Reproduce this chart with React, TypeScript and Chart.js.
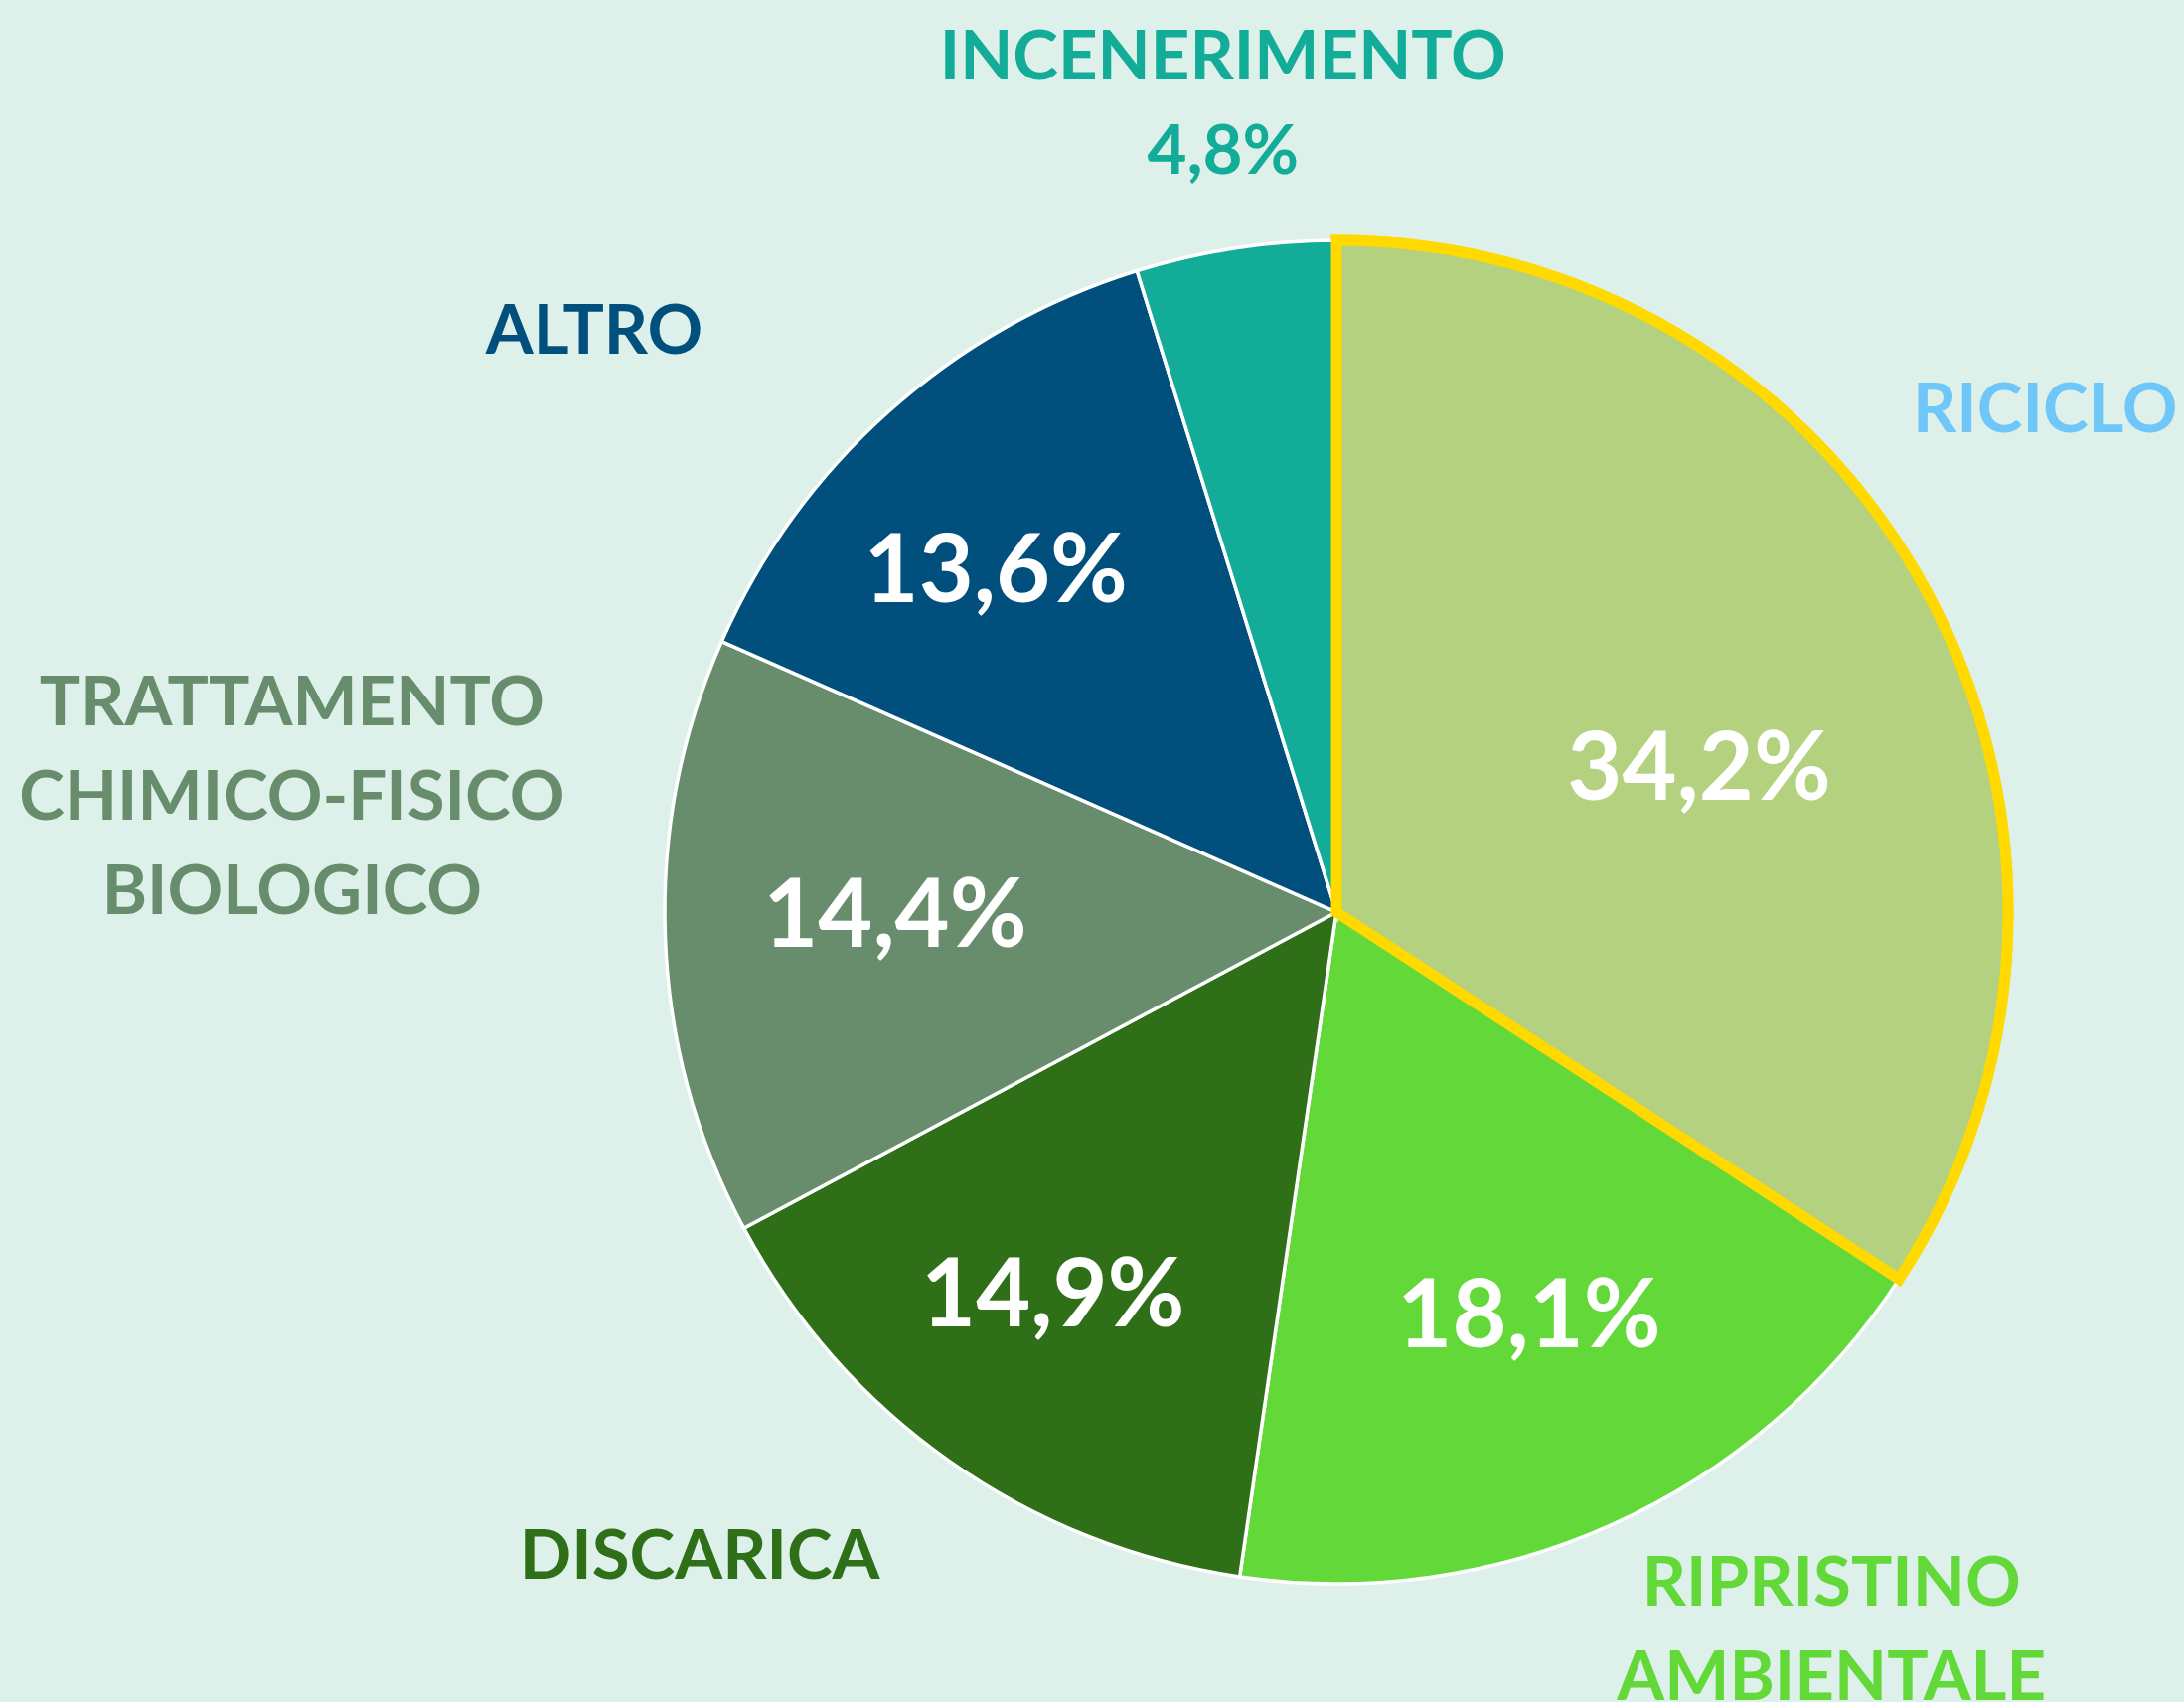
import React, { useEffect, useRef } from "react";
import { Chart, registerables } from "chart.js";

Chart.register(...registerables);

const categories = ["RICICLO", "RIPRISTINO AMBIENTALE", "DISCARICA", "TRATTAMENTO CHIMICO-FISICO BIOLOGICO", "ALTRO", "INCENERIMENTO"];
const values = [34.2, 18.1, 14.9, 14.4, 13.6, 4.8];
const sliceColors = ["#b3d17f", "#63d839", "#2f6f18", "#688d6d", "#004f7c", "#12ac98"];
const labelColors = ["#6ec6f9", "#63d839", "#2f6f18", "#688d6d", "#004f7c", "#12ac98"];
const nameLines = [["RICICLO"], ["RIPRISTINO", "AMBIENTALE"], ["DISCARICA"], ["TRATTAMENTO", "CHIMICO-FISICO", "BIOLOGICO"], ["ALTRO"], ["INCENERIMENTO", "4,8%"]];
const showInside = [true, true, true, true, true, false];
// label placement relative to pie centre, in units of radius
const insidePos = [[0.54, -0.213], [0.287, 0.602], [-0.422, 0.571], [-0.657, 0.006], [-0.507, -0.507], [0, 0]];
const outsidePos = [[1.055, -0.748], [0.737, 1.0], [-0.948, 0.960], [-1.555, -0.311], [-1.105, -0.864], [-0.169, -1.272]];

const FONT = "Lato, 'Open Sans', sans-serif";

const labelPlugin = {
  id: "labels",
  afterDatasetsDraw(chart: any) {
    const meta = chart.getDatasetMeta(0);
    const ctx = chart.ctx;
    // redraw highlighted slice on top
    meta.data[0].draw(ctx);
    const arc = meta.data[0];
    const cx = arc.x, cy = arc.y, r = arc.outerRadius;
    ctx.save();
    ctx.textAlign = "center";
    ctx.textBaseline = "middle";
    ctx.fillStyle = "#ffffff";
    ctx.font = `bold 95px ${FONT}`;
    values.forEach((v, i) => {
      if (!showInside[i]) return;
      const t = v.toFixed(1).replace(".", ",") + "%";
      ctx.fillText(t, cx + insidePos[i][0] * r, cy + insidePos[i][1] * r);
    });
    ctx.font = `bold 69px ${FONT}`;
    const lh = 95;
    nameLines.forEach((lines, i) => {
      ctx.fillStyle = labelColors[i];
      const x = cx + outsidePos[i][0] * r;
      const y0 = cy + outsidePos[i][1] * r;
      lines.forEach((l, k) => ctx.fillText(l, x, y0 + k * lh));
    });
    ctx.restore();
  },
};

export default function App() {
  const ref = useRef<HTMLCanvasElement>(null);
  useEffect(() => {
    const chart = new Chart(ref.current!, {
      type: "pie",
      data: {
        labels: categories,
        datasets: [
          {
            data: values,
            backgroundColor: sliceColors,
            borderColor: ["#ffd900", "#ffffff", "#ffffff", "#ffffff", "#ffffff", "#ffffff"],
            borderWidth: [11, 3.5, 3.5, 3.5, 3.5, 3.5],
            borderJoinStyle: "miter",
          } as any,
        ],
      },
      options: {
        animation: false,
        responsive: false,
        radius: 676,
        layout: { padding: { left: 492, right: 0, top: 123, bottom: 0 } },
        plugins: { legend: { display: false }, tooltip: { enabled: false } },
      } as any,
      plugins: [labelPlugin],
    });
    return () => chart.destroy();
  }, []);
  return (
    <div style={{ position: "fixed", left: 0, top: 0, width: 2198, height: 1713, background: "#ddf0ea" }}>
      <canvas ref={ref} width={2198} height={1713} style={{ display: "block", width: 2198, height: 1713 }} />
    </div>
  );
}
